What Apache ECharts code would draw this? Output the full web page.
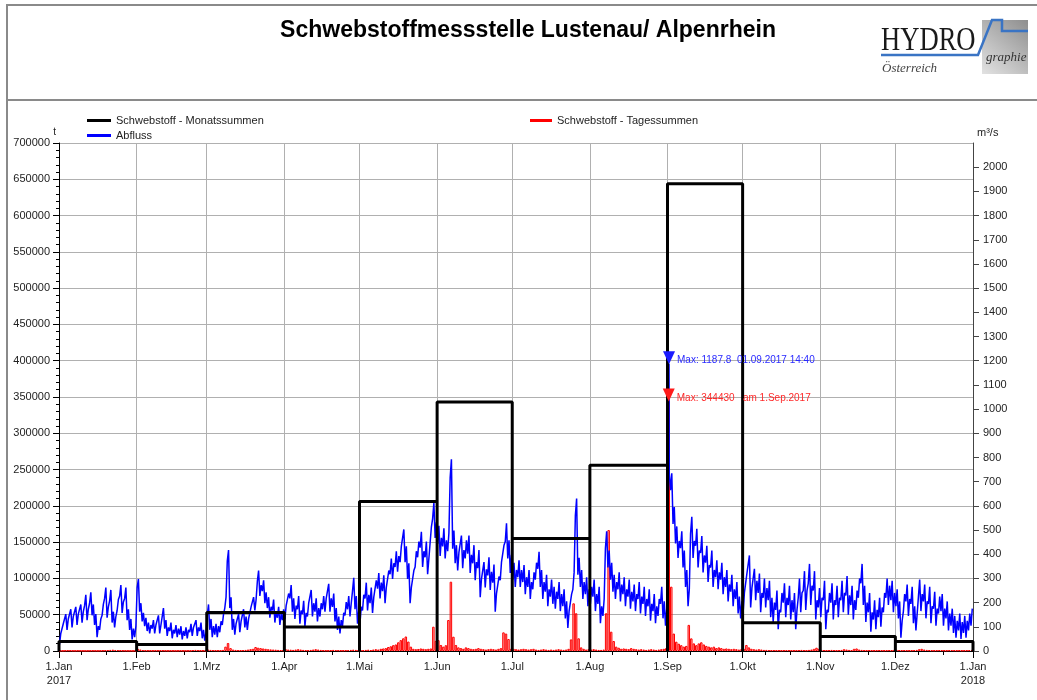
<!DOCTYPE html>
<html>
<head>
<meta charset="utf-8">
<title>Schwebstoffmessstelle Lustenau/ Alpenrhein</title>
<script src="https://cdn.jsdelivr.net/npm/echarts@6/dist/echarts.min.js"></script>
<style>
  html, body { margin: 0; padding: 0; background: #fff; }
  #chart { width: 1037px; height: 700px; }
</style>
</head>
<body>
<div id="chart"></div>
<script>
  // Daten 2017
  const year = 2017
  const monthNames = ['Jan', 'Feb', 'Mrz', 'Apr', 'Mai', 'Jun', 'Jul', 'Aug', 'Sep', 'Okt', 'Nov', 'Dez']

  // Schwebstoff - Monatssummen [t]
  const monthlySediment = [13000, 9000, 53000, 33000, 206000, 343000, 155000, 256000, 644000, 39000, 20000, 13000]

  // Schwebstoff - Tagessummen [t], ein Wert pro Tag ab 1.Jan
  const dailySediment = [
    500, 400, 600, 800, 700, 500, 400, 600, 500, 400, 300, 400, 500, 600, 500, 400, 500, 700, 900, 1200, 1500, 1800, 1400, 1100, 900, 700, 600, 500, 400, 300, 500,
    3000, 2000, 1200, 900, 800, 700, 600, 800, 700, 900, 800, 600, 500, 600, 500, 400, 500, 600, 500, 400, 500, 600, 1200, 1500, 1100, 800, 700, 600,
    2000, 1500, 1200, 1000, 900, 900, 1500, 6000, 11000, 4000, 2000, 1500, 1200, 1000, 1200, 1500, 2000, 2500, 3000, 5500, 4500, 4000, 3500, 3000, 2500, 2200, 2000, 1800, 1500, 1200, 1000,
    2500, 2000, 1800, 1500, 2000, 2500, 2000, 1500, 1200, 1000, 1500, 2000, 2500, 2000, 1500, 1000, 800, 700, 1000, 1500, 1200, 1000, 900, 800, 1000, 1200, 1500, 1800, 1500, 1200,
    1200, 1000, 1500, 1800, 1200, 2000, 2500, 2000, 3000, 3500, 4000, 5500, 6500, 8000, 9000, 12000, 15000, 17500, 20000, 13000, 6000, 3000, 2500, 2800, 3500, 3000, 2500, 3000, 3500, 33500, 14000,
    15000, 8300, 6000, 8000, 42700, 95500, 19700, 8300, 5000, 4000, 3000, 5000, 4000, 3000, 2500, 3000, 4000, 3000, 2500, 2000, 2500, 3000, 2500, 2000, 3000, 4000, 25700, 24000, 16500, 3000,
    3000, 2500, 2000, 2500, 3000, 2500, 2000, 2500, 3000, 2000, 1500, 2000, 2500, 2000, 1500, 2000, 1500, 2000, 2500, 2000, 1500, 2000, 3000, 16000, 65700, 52000, 17500, 5000, 3000, 2000, 2500,
    2000, 2500, 2000, 1500, 1500, 2000, 52000, 166700, 26600, 13800, 6000, 4500, 3000, 3500, 3000, 2500, 4000, 3000, 2500, 2000, 2500, 2000, 1500, 2000, 2500, 2000, 1500, 2000, 2500, 3000, 4000,
    344430, 88600, 24000, 12800, 10000, 8000, 6000, 7000, 36000, 17400, 10500, 8000, 10500, 12000, 9000, 7000, 6000, 5000, 6000, 4000, 5000, 4000, 3000, 3500, 3000, 2500, 3000, 2500, 2000, 2500,
    3000, 8300, 5000, 3000, 2500, 2000, 2500, 2000, 1500, 1500, 1200, 1000, 1200, 1000, 1000, 900, 1000, 1200, 1000, 900, 800, 1000, 1200, 1500, 1200, 1000, 1500, 2000, 3000, 4500, 3000,
    1500, 1200, 1000, 1200, 1500, 1300, 1000, 1200, 1500, 2500, 2000, 1500, 1200, 3000, 3500, 2000, 1500, 1200, 1000, 1200, 1000, 900, 1000, 1200, 1000, 900, 1000, 1200, 1000, 1500,
    1500, 1200, 1000, 1200, 1000, 900, 1000, 1200, 1500, 2500, 3000, 2000, 1500, 1200, 1000, 900, 1000, 1200, 1000, 900, 800, 1000, 1200, 1000, 900, 1000, 800, 900, 1000, 1200, 1500
  ]

  // Abfluss [m³/s], Tagesmittel
  const dailyFlow = [
    50, 90, 130, 110, 150, 120, 160, 130, 170, 140, 210, 150, 220, 170, 130, 80, 110, 170, 240, 160, 230, 140, 120, 190, 250, 180, 240, 150, 110, 70, 80,
    280, 180, 140, 120, 100, 90, 110, 90, 130, 90, 160, 110, 80, 100, 70, 90, 75, 85, 65, 80, 70, 95, 80, 110, 80, 100, 70, 60,
    170, 110, 80, 90, 80, 100, 130, 200, 395, 200, 110, 90, 130, 100, 150, 120, 110, 160, 200, 190, 310, 250, 270, 220, 200, 160, 190, 140, 160, 130, 150,
    160, 210, 245, 190, 160, 200, 140, 180, 130, 170, 225, 170, 190, 150, 170, 200, 190, 250, 190, 210, 150, 115, 100, 130, 175, 200, 170, 275, 200, 140,
    150, 200, 250, 200, 230, 190, 260, 290, 250, 280, 230, 300, 350, 330, 380, 360, 400, 470, 400, 330, 230, 300, 380, 420, 460, 380, 420, 350, 480, 580, 500,
    480, 430, 470, 420, 450, 755, 460, 400, 370, 440, 380, 420, 440, 360, 400, 330, 380, 260, 330, 300, 350, 290, 320, 200, 270, 330, 400, 490, 420, 360,
    330, 300, 340, 300, 320, 270, 300, 250, 290, 330, 375, 300, 250, 280, 220, 260, 230, 210, 250, 200, 220, 170, 130, 200, 290, 595, 350, 300, 250, 270, 220,
    230, 260, 200, 230, 150, 180, 460, 380, 330, 280, 250, 290, 240, 270, 220, 260, 210, 240, 200, 250, 190, 230, 180, 220, 160, 200, 150, 180, 230, 170, 140,
    700, 700, 560, 480, 420, 460, 380, 300, 220, 520, 420, 470, 380, 440, 360, 400, 320, 380, 300, 340, 290, 330, 270, 300, 240, 280, 220, 250, 190, 170,
    200, 280, 355, 220, 300, 250, 280, 200, 260, 220, 250, 180, 160, 210, 130, 200, 240, 180, 230, 170, 200, 130, 260, 200, 290, 210, 320, 230, 290, 170, 220,
    180, 250, 130, 200, 240, 170, 230, 180, 250, 200, 270, 190, 230, 170, 210, 260, 320, 230, 160, 200, 120, 170, 130, 180, 140, 200, 260, 230, 250, 200,
    220, 170, 90, 200, 240, 180, 230, 150, 120, 260, 200, 240, 170, 230, 150, 210, 140, 190, 200, 140, 170, 120, 140, 110, 90, 120, 85, 110, 90, 120, 140
  ]

  const monthlyFlowSwing = [45, 35, 45, 55, 65, 75, 70, 70, 70, 80, 80, 70]

  // Maximum Abfluss
  const flowPeak = { date: [2017, 8, 1, 14, 40], value: 1187.8, text: '01.09.2017 14:40' }
  const sedimentPeakText = 'am 1.Sep.2017'

  const DAY = 86400000
  const HOUR = 3600000
  const dayStart = (i) => new Date(year, 0, 1 + i).getTime()
  const monthStarts = []
  for (let m = 0; m <= 12; m++) monthStarts.push(new Date(year, m, 1).getTime())
  const minorTicks = []
  for (let m = 0; m < 12; m++) {
    minorTicks.push(new Date(year, m, 10).getTime(), new Date(year, m, 20).getTime())
  }

  // Monatssummen als Treppenzug (Rechtecke ohne Füllung)
  const monthOutline = []
  monthlySediment.forEach((v, m) => {
    const a = monthStarts[m]
    const b = monthStarts[m + 1]
    monthOutline.push([a, 0], [a, v], [b, v], [b, 0])
  })

  const sedimentData = dailySediment.map((v, i) => [dayStart(i) + DAY / 2, v])

  // Abfluss: Tagesmittel mit Tagesschwankung (früh tief, abends hoch)
  const peakTime = new Date(...flowPeak.date).getTime()
  const flowData = []
  dailyFlow.forEach((v, i) => {
    const t = dayStart(i)
    const s = monthlyFlowSwing[new Date(t).getMonth()] / 2
    flowData.push([t + 5 * HOUR, Math.max(v - s, 20)], [t + 17 * HOUR, v + s])
  })
  flowData.push([peakTime, flowPeak.value])
  flowData.sort((a, b) => a[0] - b[0])

  const font = 'Liberation Sans, Arial, sans-serif'

  const chart = echarts.init(document.getElementById('chart'))

  const option = {
    animation: false,
    textStyle: { fontFamily: font },
    title: {
      text: 'Schwebstoffmessstelle Lustenau/ Alpenrhein',
      left: 523,
      textAlign: 'center',
      top: 14,
      textStyle: { fontSize: 23, fontWeight: 'bold', color: '#000', fontFamily: font }
    },
    graphic: [
      // Rahmen
      { type: 'line', shape: { x1: 6, y1: 5, x2: 1037, y2: 5 }, style: { stroke: '#8a8a8a', lineWidth: 2 } },
      { type: 'line', shape: { x1: 7, y1: 5, x2: 7, y2: 700 }, style: { stroke: '#8a8a8a', lineWidth: 2 } },
      { type: 'line', shape: { x1: 6, y1: 100, x2: 1037, y2: 100 }, style: { stroke: '#8a8a8a', lineWidth: 2 } },
      // Logo
      {
        type: 'rect',
        shape: { x: 982, y: 20, width: 46, height: 54 },
        style: {
          fill: new echarts.graphic.LinearGradient(0, 1, 1, 0, [
            { offset: 0, color: '#e2e2e2' },
            { offset: 1, color: '#8e8e8e' }
          ])
        }
      },
      {
        type: 'polyline',
        shape: { points: [[881, 55], [978, 55], [992, 20], [1002, 20], [1002, 31], [1028, 31]] },
        style: { stroke: '#3a74c4', lineWidth: 2.5, fill: null }
      },
      {
        type: 'text', x: 881, y: 24,
        style: { text: 'HYDRO', fontSize: 28, fontFamily: 'Liberation Serif, Times New Roman, serif', fill: '#1a1a1a' },
        scaleX: 0.95,
        scaleY: 1.2
      },
      {
        type: 'text', x: 986, y: 51,
        style: { text: 'graphie', fontSize: 13, fontStyle: 'italic', fontFamily: 'Liberation Serif, serif', fill: '#333' }
      },
      {
        type: 'text', x: 882, y: 62,
        style: { text: 'Österreich', fontSize: 13, fontStyle: 'italic', fontFamily: 'Liberation Serif, serif', fill: '#444' }
      }
    ],
    legend: [
      {
        orient: 'vertical',
        left: 82,
        top: 115,
        itemWidth: 24,
        itemHeight: 3,
        itemGap: 4,
        icon: 'rect',
        padding: [0, 5],
        textStyle: { fontSize: 11, color: '#222', fontFamily: font },
        data: [
          { name: 'Schwebstoff - Monatssummen', itemStyle: { color: '#000' } },
          { name: 'Abfluss', itemStyle: { color: '#0000ff' } }
        ]
      },
      {
        left: 525,
        top: 115,
        itemWidth: 22,
        itemHeight: 3,
        icon: 'rect',
        padding: [0, 5],
        textStyle: { fontSize: 11, color: '#222', fontFamily: font },
        data: [{ name: 'Schwebstoff - Tagessummen', itemStyle: { color: '#ff0000', borderWidth: 0 } }]
      }
    ],
    grid: { left: 59, right: 64, top: 143, bottom: 49 },
    xAxis: [
      {
        type: 'value',
        min: monthStarts[0],
        max: monthStarts[12],
        axisLine: { lineStyle: { color: '#000', width: 1 } },
        axisTick: { customValues: monthStarts, length: 7, lineStyle: { color: '#000' } },
        axisLabel: {
          customValues: monthStarts,
          fontSize: 11,
          color: '#222',
          margin: 9,
          lineHeight: 14,
          formatter: function (val) {
            const d = new Date(val)
            const s = '1.' + monthNames[d.getMonth()]
            return d.getMonth() === 0 ? s + '\n' + d.getFullYear() : s
          }
        },
        splitLine: { show: true, lineStyle: { color: '#b0b0b0', width: 1 } }
      },
      {
        type: 'value',
        position: 'bottom',
        min: monthStarts[0],
        max: monthStarts[12],
        axisLine: { show: false },
        axisTick: { customValues: minorTicks, length: 4, lineStyle: { color: '#000' } },
        axisLabel: { show: false },
        splitLine: { show: false }
      }
    ],
    yAxis: [
      {
        type: 'value',
        position: 'left',
        min: 0,
        max: 700000,
        interval: 50000,
        name: 't',
        nameLocation: 'end',
        nameGap: 0,
        nameTextStyle: { fontSize: 10, color: '#222', align: 'right', padding: [0, 3, 0, 0] },
        axisLine: { show: true, lineStyle: { color: '#000', width: 1 } },
        axisTick: { show: true, length: 6, lineStyle: { color: '#000' } },
        minorTick: { show: true, splitNumber: 5, length: 3, lineStyle: { color: '#000' } },
        axisLabel: { fontSize: 11, color: '#222', margin: 9, formatter: (v) => String(v) },
        splitLine: { show: true, lineStyle: { color: '#b0b0b0', width: 1 } }
      },
      {
        type: 'value',
        position: 'right',
        min: 0,
        max: 2100,
        interval: 100,
        name: 'm³/s',
        nameLocation: 'end',
        nameGap: 5,
        nameTextStyle: { fontSize: 11, color: '#222', align: 'left', padding: [0, 0, 0, 4] },
        axisLine: { show: true, lineStyle: { color: '#444', width: 1 } },
        axisTick: { show: true, length: 6, lineStyle: { color: '#444' } },
        axisLabel: { fontSize: 11, color: '#222', margin: 10, showMaxLabel: false, formatter: (v) => String(v) },
        splitLine: { show: false }
      }
    ],
    series: [
      {
        name: 'Schwebstoff - Tagessummen',
        type: 'bar',
        xAxisIndex: 0,
        yAxisIndex: 0,
        barWidth: '100%',
        z: 2,
        itemStyle: { color: 'rgba(255, 0, 0, 0.3)', borderColor: '#ff0000', borderWidth: 1 },
        data: sedimentData,
        markPoint: {
          z: 10,
          symbol: 'triangle',
          symbolRotate: 180,
          symbolSize: [12, 13],
          symbolOffset: [0, -6],
          itemStyle: { color: '#ff1a1a' },
          label: {
            show: true,
            position: 'right',
            distance: 2,
            offset: [0, 3],
            fontSize: 10,
            color: '#ff2a2a',
            formatter: (p) => 'Max: ' + p.value + '   ' + sedimentPeakText
          },
          data: [{ type: 'max' }]
        }
      },
      {
        name: 'Abfluss',
        type: 'line',
        xAxisIndex: 0,
        yAxisIndex: 1,
        showSymbol: false,
        z: 3,
        lineStyle: { color: '#0000ff', width: 1.5 },
        itemStyle: { color: '#0000ff' },
        data: flowData,
        markPoint: {
          z: 10,
          symbol: 'triangle',
          symbolRotate: 180,
          symbolSize: [12, 13],
          symbolOffset: [0, -6],
          itemStyle: { color: '#1a1aff' },
          label: {
            show: true,
            position: 'right',
            distance: 2,
            offset: [0, 3],
            fontSize: 10,
            color: '#2a2aff',
            formatter: () => 'Max: ' + flowPeak.value + '  ' + flowPeak.text
          },
          data: [{ type: 'max' }]
        }
      },
      {
        name: 'Schwebstoff - Monatssummen',
        type: 'line',
        xAxisIndex: 0,
        yAxisIndex: 0,
        showSymbol: false,
        z: 4,
        lineStyle: { color: '#000', width: 3 },
        itemStyle: { color: '#000' },
        data: monthOutline
      }
    ]
  }

  chart.setOption(option)
</script>
</body>
</html>
